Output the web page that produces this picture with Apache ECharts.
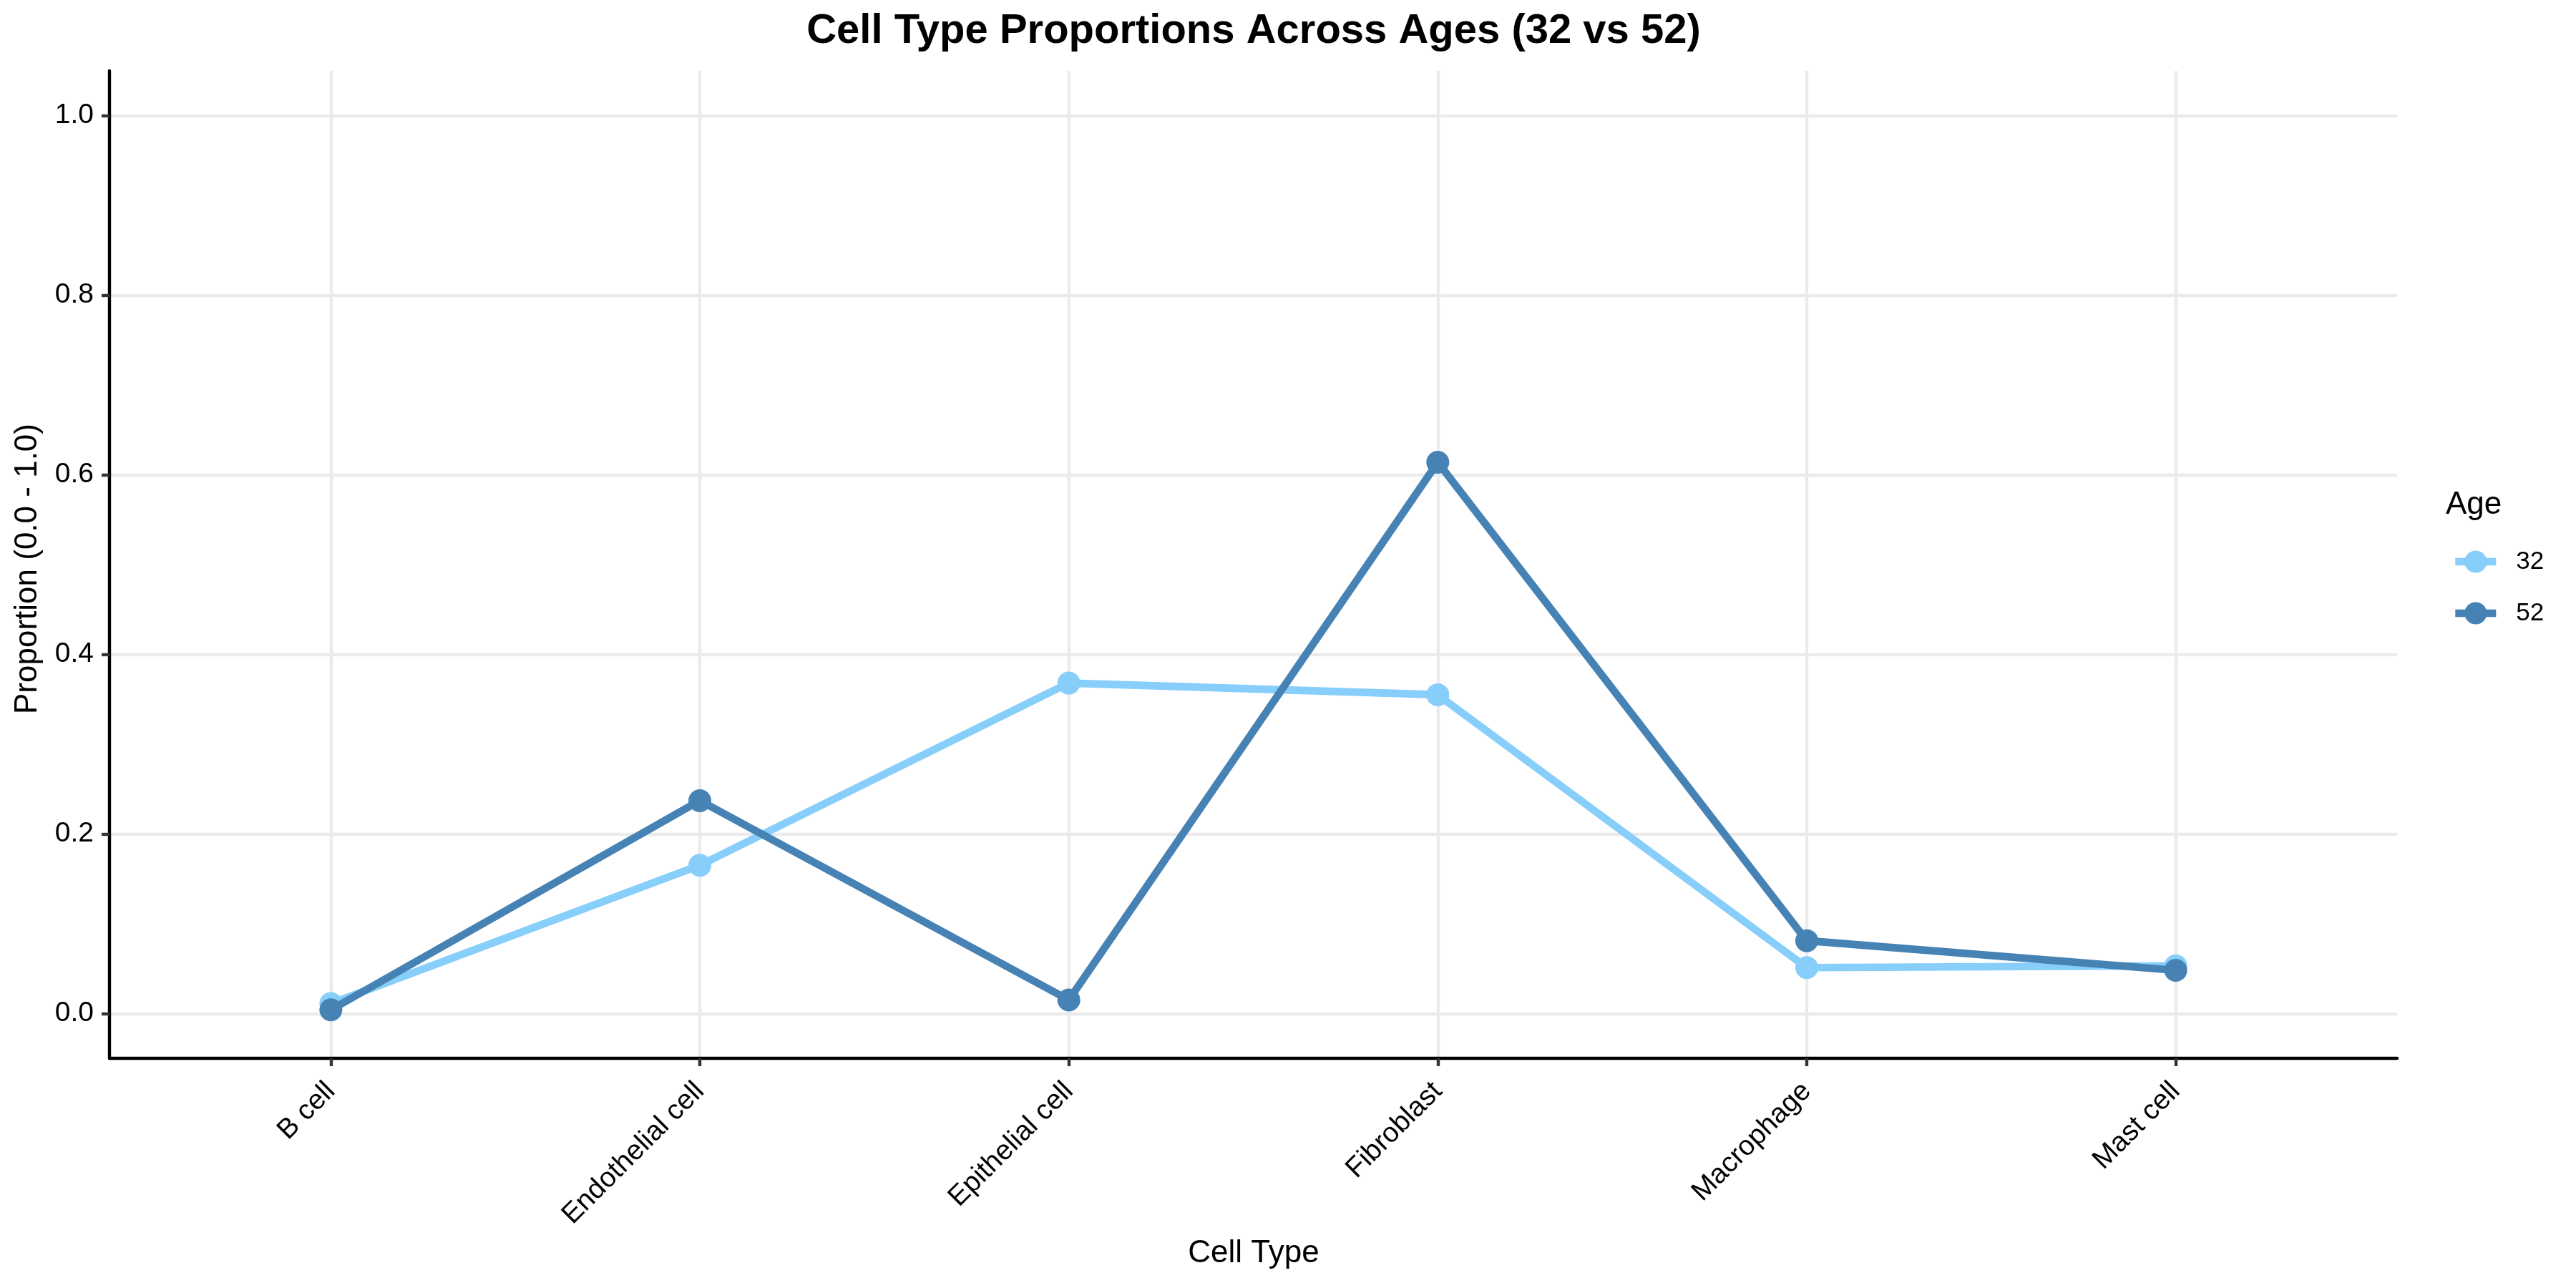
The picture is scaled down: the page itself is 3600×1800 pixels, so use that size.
<!DOCTYPE html>
<html><head><meta charset="utf-8">
<script src="https://cdn.jsdelivr.net/npm/echarts@6/dist/echarts.min.js"></script>
<style>html,body{margin:0;padding:0;background:#fff}#c{width:3600px;height:1800px}</style>
</head><body><div id="c"></div>
<script>
const categories = ['B cell', 'Endothelial cell', 'Epithelial cell', 'Fibroblast', 'Macrophage', 'Mast cell'];
const age32 = [0.011, 0.165, 0.368, 0.355, 0.051, 0.053];
const age52 = [0.004, 0.237, 0.015, 0.614, 0.081, 0.048];
const yTicks = [0, 0.2, 0.4, 0.6, 0.8, 1.0];
const seriesNames = ['32', '52'];
const seriesColors = ['#87CEFA', '#4682B4'];
const titleText = 'Cell Type Proportions Across Ages (32 vs 52)';
const xTitle = 'Cell Type';
const yTitle = 'Proportion (0.0 - 1.0)';
const legendTitle = 'Age';

const FONT = '"Liberation Sans", Arial, Helvetica, sans-serif';
const chart = echarts.init(document.getElementById('c'), null, {renderer: 'canvas'});
const xIdx = categories.map((_, i) => i);
const pts = vals => vals.map((v, i) => [i, v]);
const allSeries = [age32, age52];

const option = {
  animation: false,
  backgroundColor: '#ffffff',
  grid: {left: 153, right: 250, top: 99, bottom: 321, containLabel: false},
  xAxis: {
    type: 'value', min: -0.6, max: 5.6,
    axisLine: {show: true, onZero: false, lineStyle: {color: '#000', width: 4.4}},
    axisTick: {show: true, length: 11, customValues: xIdx, lineStyle: {color: '#333333', width: 4.4}},
    axisLabel: {customValues: xIdx, formatter: v => categories[Math.round(v)], rotate: 45, margin: 40,
      padding: [40, 0, 0, 0], fontSize: 39, fontFamily: FONT, color: '#000'},
    splitLine: {show: true, lineStyle: {color: '#EBEBEB', width: 4.4}}
  },
  yAxis: {
    type: 'value', min: -0.05, max: 1.05,
    axisLine: {show: true, onZero: false, lineStyle: {color: '#000', width: 4.4}},
    axisTick: {show: true, length: 11, customValues: yTicks, lineStyle: {color: '#333333', width: 4.4}},
    axisLabel: {customValues: yTicks, formatter: v => v.toFixed(1), margin: 22, fontSize: 39, fontFamily: FONT, color: '#000'},
    splitLine: {show: true, lineStyle: {color: '#EBEBEB', width: 4.4}}
  },
  legend: {
    orient: 'vertical', left: 3421, top: 760.5, padding: 5,
    itemWidth: 57, itemHeight: 39, itemGap: 33,
    lineStyle: {width: 10.6},
    textStyle: {fontSize: 35, lineHeight: 39, fontFamily: FONT, color: '#000', padding: [0, 0, 0, 23]},
    data: seriesNames
  },
  series: seriesNames.map((n, k) => ({
    name: n, type: 'line', data: pts(allSeries[k]),
    symbol: 'circle', symbolSize: 32, showSymbol: true,
    lineStyle: {width: 10.6, color: seriesColors[k]},
    itemStyle: {color: seriesColors[k]},
    z: 2 + k
  })),
  graphic: [
    {type: 'text', x: 1752, y: 44, style: {text: titleText, font: 'bold 58px ' + FONT, fill: '#000', align: 'center', verticalAlign: 'middle'}},
    {type: 'text', x: 1752, y: 1752, style: {text: xTitle, font: '44px ' + FONT, fill: '#000', align: 'center', verticalAlign: 'middle'}},
    {type: 'text', x: 39, y: 795, rotation: Math.PI / 2, style: {text: yTitle, font: '44px ' + FONT, fill: '#000', align: 'center', verticalAlign: 'middle'}},
    {type: 'text', x: 3418, y: 706, style: {text: legendTitle, font: '44px ' + FONT, fill: '#000', align: 'left', verticalAlign: 'middle'}}
  ]
};
chart.setOption(option);
</script>
</body></html>
